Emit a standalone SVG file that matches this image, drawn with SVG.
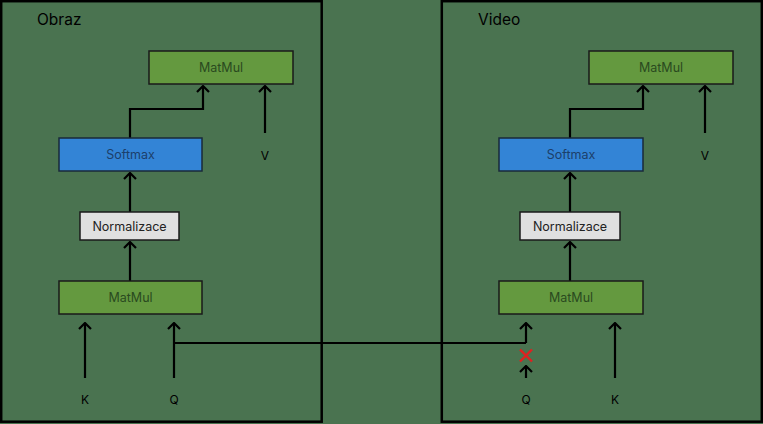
<svg xmlns="http://www.w3.org/2000/svg" width="763" height="424" viewBox="0 0 763 424">
<defs>
<marker id="ah" viewBox="0 0 8 14" refX="7" refY="7" markerWidth="8" markerHeight="14" markerUnits="userSpaceOnUse" orient="auto">
<path d="M1,1 L7,7 L1,13" fill="none" stroke="#000" stroke-width="2.2"/>
</marker>
<style>
.panel{fill:#4a7350;stroke:#000;stroke-width:2.5}
.mm{fill:#64993f;stroke:#1a1a1a;stroke-width:1.5}
.sm{fill:#3384d6;stroke:#1a2a3a;stroke-width:1.5}
.nz{fill:#e0e0e0;stroke:#1a1a1a;stroke-width:1.5}
.t{font-family:Inter,"Liberation Sans",sans-serif;font-size:12.5px;text-anchor:middle;dominant-baseline:central}
.tmm{fill:#2a4a20}
.tsm{fill:#1c3f6a}
.tnz{fill:#222;font-size:12.5px}
.lbl{font-family:Inter,"Liberation Sans",sans-serif;font-size:12px;fill:#000;text-anchor:middle;dominant-baseline:central}
.title{font-family:Inter,"Liberation Sans",sans-serif;font-size:15.5px;fill:#000}
.c{fill:none;stroke:#000;stroke-width:2.2}
.ca{fill:none;stroke:#000;stroke-width:2.2;marker-end:url(#ah)}
</style>
</defs>
<rect x="0" y="0" width="763" height="424" fill="#4a7350"/>
<g id="panel-obraz">
<rect class="panel" x="1.2" y="1.2" width="320.5" height="420.5"/>
<text class="title" x="37" y="25">Obraz</text>
</g>
<g id="panel-video">
<rect class="panel" x="441.8" y="1.2" width="320" height="420.5"/>
<text class="title" x="478" y="25">Video</text>
</g>
<g id="connectors">
<path class="ca" d="M130,138 V109 H203 V86"/>
<path class="ca" d="M265,133 V86"/>
<path class="ca" d="M130,212 V173"/>
<path class="ca" d="M130,281 V242"/>
<path class="ca" d="M85,378 V323"/>
<path class="ca" d="M174,378 V323"/>
<path class="c" d="M175,343 H526"/>
<path class="ca" d="M526,343 V323"/>
<path class="ca" d="M526,378 V366"/>
<path class="ca" d="M570,138 V109 H643 V86"/>
<path class="ca" d="M705,133 V86"/>
<path class="ca" d="M570,212 V173"/>
<path class="ca" d="M570,281 V242"/>
<path class="ca" d="M615,378 V323"/>
<path d="M520,349.5 L532,361.5 M532,349.5 L520,361.5" stroke="#e02020" stroke-width="2.4" fill="none"/>
</g>
<g id="obraz-matmul-top"><rect class="mm" x="149" y="51" width="144" height="33"/><text class="t tmm" x="221" y="67.5">MatMul</text></g>
<g id="obraz-softmax"><rect class="sm" x="59" y="138" width="143" height="33"/><text class="t tsm" x="130.5" y="154.5">Softmax</text></g>
<g id="obraz-normalizace"><rect class="nz" x="80" y="212" width="99" height="28"/><text class="t tnz" x="129.5" y="226.5">Normalizace</text></g>
<g id="obraz-matmul-bottom"><rect class="mm" x="59" y="281" width="143" height="33"/><text class="t tmm" x="130.5" y="297.5">MatMul</text></g>
<g id="obraz-v"><text class="lbl" x="265" y="155">V</text></g>
<g id="obraz-k"><text class="lbl" x="85" y="399">K</text></g>
<g id="obraz-q"><text class="lbl" x="174" y="399">Q</text></g>
<g id="video-matmul-top"><rect class="mm" x="589" y="51" width="144" height="33"/><text class="t tmm" x="661" y="67.5">MatMul</text></g>
<g id="video-softmax"><rect class="sm" x="499" y="138" width="144" height="33"/><text class="t tsm" x="571" y="154.5">Softmax</text></g>
<g id="video-normalizace"><rect class="nz" x="520" y="212" width="100" height="28"/><text class="t tnz" x="570" y="226.5">Normalizace</text></g>
<g id="video-matmul-bottom"><rect class="mm" x="499" y="281" width="144" height="33"/><text class="t tmm" x="571" y="297.5">MatMul</text></g>
<g id="video-v"><text class="lbl" x="705" y="155">V</text></g>
<g id="video-q"><text class="lbl" x="526" y="399">Q</text></g>
<g id="video-k"><text class="lbl" x="615" y="399">K</text></g>
</svg>
